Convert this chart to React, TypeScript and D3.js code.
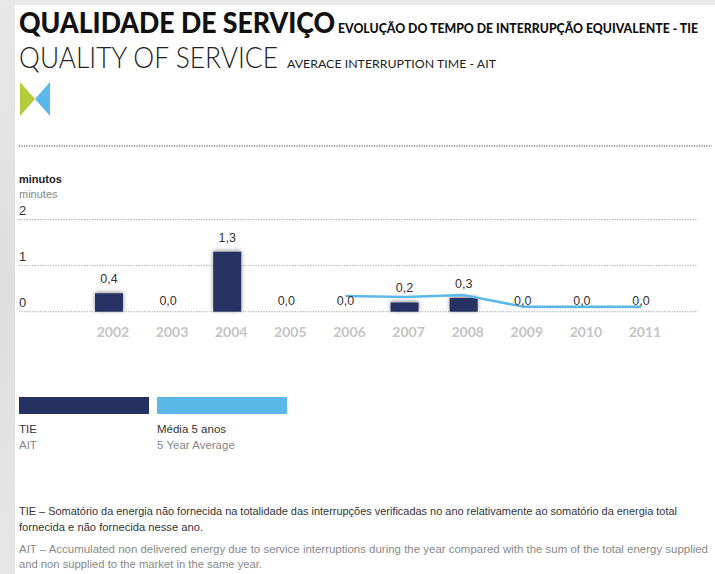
import React from "react";
import * as d3 from "d3";

const years = ["2002", "2003", "2004", "2005", "2006", "2007", "2008", "2009", "2010", "2011"];
const tieValues = [0.4, 0.0, 1.3, 0.0, 0.0, 0.2, 0.3, 0.0, 0.0, 0.0];
const valueLabels = ["0,4", "0,0", "1,3", "0,0", "0,0", "0,2", "0,3", "0,0", "0,0", "0,0"];
const avgYears = ["2006", "2007", "2008", "2009", "2010", "2011"];
const avgValues = [0.34, 0.32, 0.36, 0.11, 0.11, 0.11];
const yTicks = [0, 1, 2];

const W = 715;
const H = 574;
const NAVY = "#263163";
const LIGHT = "#5bb8e8";
const NARROW = "'Liberation Sans Narrow', 'Liberation Sans', Arial, sans-serif";

export default function App() {
  React.useEffect(() => {
    document.body.style.margin = "0";
  }, []);

  const x = d3.scalePoint<string>().domain(years).range([109, 641]);
  const y = d3.scaleLinear().domain([0, 2]).range([311.7, 219.5]);
  const barW = 28;

  const line = d3
    .line<number>()
    .x((_, i) => x(avgYears[i]) as number)
    .y((d) => y(d));

  return (
    <svg width={W} height={H} style={{ position: "absolute", left: 0, top: 0, display: "block" }}>
      <defs>
        <linearGradient id="bgGrad" x1="0" y1="0" x2="0" y2="1">
          <stop offset="0" stopColor="#e8e8e8" />
          <stop offset="0.5" stopColor="#dedede" />
          <stop offset="1" stopColor="#e6e6e6" />
        </linearGradient>
        <filter id="shadow" x="-30%" y="-30%" width="160%" height="160%">
          <feDropShadow dx="0" dy="-1" stdDeviation="2" floodColor="#000" floodOpacity="0.45" />
        </filter>
      </defs>
      <rect x={0} y={0} width={W} height={H} fill="url(#bgGrad)" />
      <rect x={15} y={5} width={W - 15} height={H - 5} fill="#ffffff" />

      {/* Titles */}
      <text x={19} y={33} fontFamily="Lato, sans-serif" fontWeight={900} fontSize={29} fill="#111" textLength={316} lengthAdjust="spacingAndGlyphs">
        QUALIDADE DE SERVIÇO
      </text>
      <text x={338} y={33} fontFamily="Lato, sans-serif" fontWeight={900} fontSize={12.5} fill="#111" textLength={360} lengthAdjust="spacingAndGlyphs">
        EVOLUÇÃO DO TEMPO DE INTERRUPÇÃO EQUIVALENTE - TIE
      </text>
      <text x={19} y={68} fontFamily="Lato, sans-serif" fontWeight={300} fontSize={29} fill="#222" textLength={259} lengthAdjust="spacingAndGlyphs">
        QUALITY OF SERVICE
      </text>
      <text x={287} y={68} fontFamily="Lato, sans-serif" fontWeight={400} fontSize={11.5} fill="#222" textLength={209} lengthAdjust="spacingAndGlyphs">
        AVERACE INTERRUPTION TIME - AIT
      </text>

      {/* Logo */}
      <polygon points="20,82 20,116 35,99" fill="#b5cc3a" />
      <polygon points="50,82 50,116 35,99" fill={LIGHT} />

      {/* separator */}
      <line x1={19} x2={712} y1={146} y2={146} stroke="#444" strokeWidth={1.2} strokeDasharray="1.2 1.3" />

      {/* Axis titles */}
      <text x={19} y={183} fontFamily={NARROW} fontWeight={700} fontSize={11} fill="#222">minutos</text>
      <text x={19} y={198} fontFamily={NARROW} fontSize={11} fill="#888">minutes</text>

      {/* Grid and y labels */}
      {yTicks.map((t) => (
        <g key={t}>
          <line x1={19} x2={698} y1={y(t)} y2={y(t)} stroke="#aaa" strokeWidth={1} strokeDasharray="1.3 1.3" />
          <text x={19} y={y(t) - 5} fontFamily={NARROW} fontSize={13} fill="#333">{t}</text>
        </g>
      ))}

      {/* Bars */}
      {years.map((yr, i) =>
        tieValues[i] > 0 ? (
          <rect
            key={yr}
            x={(x(yr) as number) - barW / 2}
            y={y(tieValues[i])}
            width={barW}
            height={y(0) - y(tieValues[i])}
            fill={NAVY}
            filter="url(#shadow)"
          />
        ) : null
      )}

      {/* Average line */}
      <path d={line(avgValues) || ""} fill="none" stroke={LIGHT} strokeWidth={2.5} strokeLinejoin="round" />

      {/* Value labels */}
      {years.map((yr, i) => (
        <text
          key={"v" + yr}
          x={x(yr) as number}
          y={y(tieValues[i]) - (tieValues[i] > 0 ? 10 : 7)}
          textAnchor="middle"
          fontFamily={NARROW}
          fontSize={12.5}
          fill="#333"
        >
          {valueLabels[i]}
        </text>
      ))}

      {/* Year labels */}
      {years.map((yr) => (
        <text
          key={"y" + yr}
          x={(x(yr) as number) + 4}
          y={337}
          textAnchor="middle"
          fontFamily="Lato, sans-serif"
          fontWeight={700}
          fontSize={14}
          fill="#c4c4c4"
        >
          {yr}
        </text>
      ))}

      {/* Legend */}
      <rect x={19} y={397} width={130} height={17} fill={NAVY} />
      <rect x={157} y={397} width={130} height={17} fill={LIGHT} />
      <text x={19} y={433} fontFamily={NARROW} fontSize={11.5} fill="#333">TIE</text>
      <text x={19} y={449} fontFamily={NARROW} fontSize={11.5} fill="#888">AIT</text>
      <text x={157} y={433} fontFamily={NARROW} fontSize={11.5} fill="#333">Média 5 anos</text>
      <text x={157} y={449} fontFamily={NARROW} fontSize={11.5} fill="#888">5 Year Average</text>

      {/* Footnotes */}
      <text x={19} y={515} fontFamily={NARROW} fontSize={10.5} fill="#333" textLength={658} lengthAdjust="spacingAndGlyphs">
        TIE – Somatório da energia não fornecida na totalidade das interrupções verificadas no ano relativamente ao somatório da energia total
      </text>
      <text x={19} y={531} fontFamily={NARROW} fontSize={10.5} fill="#333" textLength={184} lengthAdjust="spacingAndGlyphs">
        fornecida e não fornecida nesse ano.
      </text>
      <text x={19} y={553} fontFamily={NARROW} fontSize={10.5} fill="#888" textLength={689} lengthAdjust="spacingAndGlyphs">
        AIT – Accumulated non delivered energy due to service interruptions during the year compared with the sum of the total energy supplied
      </text>
      <text x={19} y={568} fontFamily={NARROW} fontSize={10.5} fill="#888" textLength={243} lengthAdjust="spacingAndGlyphs">
        and non supplied to the market in the same year.
      </text>
    </svg>
  );
}
